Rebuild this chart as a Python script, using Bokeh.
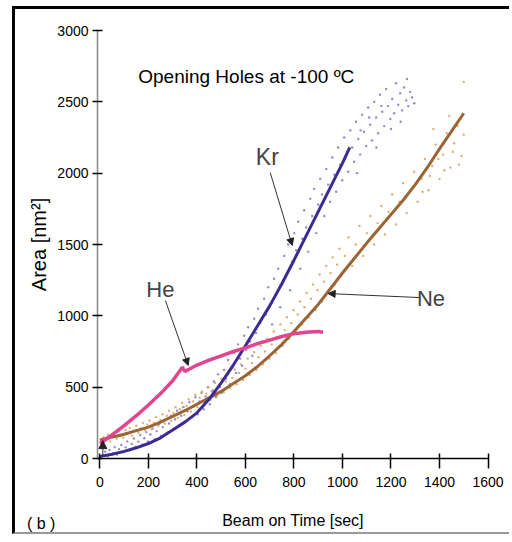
from bokeh.plotting import figure
from bokeh.models import Arrow, NormalHead, Label, Range1d, FixedTicker, InlineStyleSheet, Div
from bokeh.layouts import column
from bokeh.embed import file_html
from bokeh.resources import INLINE

# ---- data ----
kr_x = [0, 50, 100, 150, 200, 250, 300, 350, 400, 450, 500, 550, 600, 650, 700, 750, 800, 850, 900, 950, 1000, 1030]
kr_y = [15, 30, 50, 75, 105, 145, 200, 255, 320, 415, 530, 655, 790, 930, 1070, 1225, 1390, 1560, 1730, 1900, 2070, 2180]

ne_x = [0, 50, 100, 150, 200, 250, 300, 350, 400, 450, 500, 550, 600, 650, 700, 750, 800, 850, 900,
        950, 1000, 1050, 1100, 1150, 1200, 1250, 1300, 1350, 1400, 1450, 1500]
ne_y = [130, 150, 170, 195, 220, 255, 295, 335, 380, 425, 470, 525, 580, 645, 720, 800, 890, 985, 1080,
        1190, 1300, 1405, 1510, 1610, 1710, 1810, 1920, 2040, 2170, 2295, 2420]

he_x = [0, 50, 100, 150, 200, 250, 300, 340, 350, 400, 450, 500, 550, 600, 650, 700, 750, 800, 850, 900, 920]
he_y = [105, 165, 230, 300, 375, 455, 545, 640, 610, 655, 690, 720, 750, 775, 805, 830, 855, 875, 885, 890, 885]

kr_dots = [(10, 22), (22, 48), (31, 15), (40, 60), (52, 35), (61, 80), (70, 28), (79, 66), (88, 95), (97, 44),
           (106, 78), (113, 120), (124, 58), (131, 102), (140, 140), (149, 83), (158, 118), (166, 165), (175, 97),
           (183, 142), (191, 185), (199, 120), (208, 168), (217, 210), (226, 135), (234, 192), (243, 240),
           (251, 158), (259, 220), (268, 270), (277, 180), (285, 245), (293, 300), (302, 205), (310, 275),
           (318, 335), (327, 232), (335, 300), (344, 360), (352, 260), (361, 330), (369, 395), (377, 285),
           (386, 365), (394, 430), (403, 310), (411, 400), (419, 460), (428, 345), (436, 435), (445, 500),
           (453, 380), (462, 470), (470, 540), (478, 430), (487, 590), (495, 500), (503, 460), (512, 620),
           (520, 560), (528, 690), (536, 520), (545, 640), (553, 740), (561, 600), (570, 800), (578, 700),
           (586, 650), (595, 860), (603, 760), (611, 920), (619, 820), (628, 720), (636, 980), (644, 880),
           (652, 1050), (661, 950), (669, 820), (677, 1120), (685, 1010), (694, 1200), (702, 1080), (710, 940),
           (718, 1260), (727, 1150), (735, 1330), (743, 1060), (751, 1220), (760, 1420), (768, 1290), (776, 1500),
           (784, 1180), (793, 1380), (801, 1580), (809, 1460), (817, 1660), (826, 1330), (834, 1540), (842, 1740),
           (850, 1620), (859, 1450), (867, 1820), (875, 1700), (883, 1890), (892, 1580), (900, 1780), (908, 1960),
           (916, 1850), (925, 1700), (933, 2030), (941, 1920), (949, 1800), (958, 2110), (966, 1990), (974, 1870),
           (982, 2180), (991, 2060), (999, 1950), (1007, 2250), (1015, 2120), (1024, 2010), (1032, 2300),
           (1040, 2180), (1048, 2080), (1056, 2360), (1065, 2240), (1073, 2130), (1081, 2410), (1089, 2290),
           (1098, 2190), (1106, 2460), (1114, 2340), (1122, 2230), (1131, 2500), (1139, 2390), (1147, 2280),
           (1155, 2550), (1164, 2430), (1172, 2330), (1180, 2590), (1188, 2470), (1197, 2380), (1205, 2520),
           (1213, 2420), (1221, 2630), (1230, 2480), (1238, 2560), (1246, 2440), (1254, 2600), (1263, 2510),
           (1271, 2470), (1279, 2570), (1287, 2530), (1296, 2490), (1266, 2660), (1160, 2470), (1110, 2390),
           (1075, 2300), (1200, 2310), (1240, 2360), (1140, 2180), (1060, 2000)]

ne_dots = [(6, 118), (15, 150), (24, 132), (33, 165), (42, 120), (51, 158), (60, 178), (69, 140), (78, 190),
           (87, 160), (96, 145), (105, 200), (114, 172), (123, 215), (132, 160), (141, 195), (150, 230),
           (159, 182), (168, 210), (177, 250), (186, 200), (195, 238), (204, 265), (213, 205), (222, 250),
           (231, 290), (240, 228), (249, 270), (258, 310), (267, 245), (276, 300), (285, 335), (294, 265),
           (303, 320), (312, 360), (321, 285), (330, 345), (339, 390), (348, 305), (357, 370), (366, 415),
           (375, 330), (384, 400), (393, 445), (402, 360), (411, 425), (420, 470), (429, 385), (438, 455),
           (447, 500), (456, 410), (465, 480), (474, 530), (483, 440), (492, 505), (501, 560), (510, 465),
           (519, 540), (528, 590), (537, 495), (546, 565), (555, 625), (564, 520), (573, 600), (582, 660),
           (591, 550), (600, 630), (609, 700), (618, 585), (627, 670), (636, 745), (645, 620), (654, 710),
           (663, 790), (672, 660), (681, 750), (690, 840), (699, 700), (708, 800), (717, 890), (726, 740),
           (735, 850), (744, 940), (753, 790), (762, 900), (771, 990), (780, 840), (789, 950), (798, 1040),
           (807, 890), (816, 1010), (825, 1100), (834, 940), (843, 1060), (852, 1160), (861, 990), (870, 1120),
           (879, 1220), (888, 1040), (897, 1180), (906, 1290), (915, 1100), (924, 1240), (933, 1350), (942, 1160),
           (951, 1300), (960, 1410), (969, 1220), (978, 1360), (987, 1470), (996, 1280), (1010, 1420),
           (1025, 1550), (1040, 1350), (1055, 1500), (1070, 1630), (1085, 1420), (1100, 1580), (1115, 1700),
           (1130, 1500), (1145, 1650), (1160, 1770), (1175, 1570), (1190, 1730), (1205, 1850), (1220, 1640),
           (1235, 1800), (1250, 1930), (1265, 1720), (1280, 1880), (1295, 2010), (1310, 1800), (1325, 1960),
           (1340, 2100), (1355, 1880), (1370, 2050), (1385, 2200), (1400, 1960), (1415, 2130), (1430, 2280),
           (1445, 2040), (1460, 2210), (1475, 2330), (1490, 2120), (1500, 2270), (1480, 2060), (1455, 2150),
           (1420, 2020), (1395, 2100), (1360, 1980), (1330, 1870), (1500, 2640), (1440, 2400), (1375, 2310)]

x_ticks = [0, 200, 400, 600, 800, 1000, 1200, 1400, 1600]
y_ticks = [0, 500, 1000, 1500, 2000, 2500, 3000]

KR = "#3d2a94"
NE = "#9b6434"
HE = "#e2448e"
FONT = "Liberation Sans Narrow, Liberation Sans"

p = figure(width=497, height=528, output_backend="svg", toolbar_location=None,
           x_range=Range1d(-10, 1602), y_range=Range1d(0, 3000),
           min_border_left=82, min_border_top=21, min_border_right=24, min_border_bottom=79)
p.stylesheets = [InlineStyleSheet(css=":host { margin: 6px 0 0 12px !important; "
                                      "border-left: 3px solid black !important; "
                                      "border-top: 3px solid black !important; "
                                      "border-bottom: 2px solid #999999 !important; }")]
p.grid.visible = False
p.outline_line_color = None
p.background_fill_color = "white"

# scatter clouds
p.scatter([d[0] for d in kr_dots], [d[1] for d in kr_dots], size=2.4, color="#6f62c2", alpha=0.75,
          line_color=None)
p.scatter([d[0] for d in ne_dots], [d[1] for d in ne_dots], size=2.4, color="#d29c58", alpha=0.8,
          line_color=None)

# curves
p.line(ne_x, ne_y, line_color=NE, line_width=3)
p.line(kr_x, kr_y, line_color=KR, line_width=3)
p.line(he_x, he_y, line_color=HE, line_width=3.5)

# axes
for ax, ticks in ((p.xaxis[0], x_ticks), (p.yaxis[0], y_ticks)):
    ax.ticker = FixedTicker(ticks=ticks, minor_ticks=[])
    ax.major_label_text_font = FONT
    ax.major_label_text_font_size = "14px"
    ax.major_label_text_color = "black"
    ax.major_tick_line_color = "black"
    ax.major_tick_line_width = 1.5
    ax.axis_label_text_font = "Liberation Sans"
    ax.axis_label_text_font_style = "normal"
    ax.axis_label_text_color = "black"

p.xaxis.axis_line_color = "black"
p.xaxis.axis_line_width = 1.5
p.xaxis.major_tick_in = 5
p.xaxis.major_tick_out = 10
p.xaxis.major_label_standoff = 8
p.xaxis.axis_label = "Beam on Time [sec]"
p.xaxis.axis_label_text_font_size = "16px"
p.xaxis.axis_label_standoff = 22

p.yaxis.axis_line_color = "#888888"
p.yaxis.axis_line_width = 1.5
p.yaxis.major_tick_in = 5
p.yaxis.major_tick_out = 5
p.yaxis.major_label_standoff = 4
p.yaxis.major_label_orientation = "horizontal"
p.yaxis.axis_label = "Area [nm²]"
p.yaxis.axis_label_text_font_size = "20px"
p.yaxis.axis_label_standoff = 4

# texts
p.add_layout(Label(x=158, y=2677, text="Opening Holes at -100 ºC", text_font="Liberation Sans",
                   text_font_size="19px", text_baseline="middle", text_color="black"))
p.add_layout(Label(x=690, y=2116, text="Kr", text_font="Liberation Sans", text_font_size="23px",
                   text_align="center", text_baseline="middle"))
p.add_layout(Label(x=249, y=1184, text="He", text_font="Liberation Sans", text_font_size="22px",
                   text_align="center", text_baseline="middle"))
p.add_layout(Label(x=1365, y=1121, text="Ne", text_font="Liberation Sans", text_font_size="22px",
                   text_align="center", text_baseline="middle"))

# arrows
def arr(x0, y0, x1, y1, s=7):
    p.add_layout(Arrow(x_start=x0, y_start=y0, x_end=x1, y_end=y1, line_color="#333333", line_width=1,
                       end=NormalHead(size=s, fill_color="#222222", line_color="#222222")))

arr(702, 2004, 793, 1493)
arr(270, 1107, 364, 652)
arr(1320, 1128, 941, 1156)
arr(12, 20, 12, 125, s=8)

# "(b)" panel tag at the bottom left
tag = Div(text="( b )", styles={"position": "absolute", "left": "22px", "top": "508px",
                                "font-family": "Liberation Sans", "font-size": "16px", "color": "black",
                                "z-index": "10"})

open("out.html", "w").write(file_html(column(p, tag), INLINE))
